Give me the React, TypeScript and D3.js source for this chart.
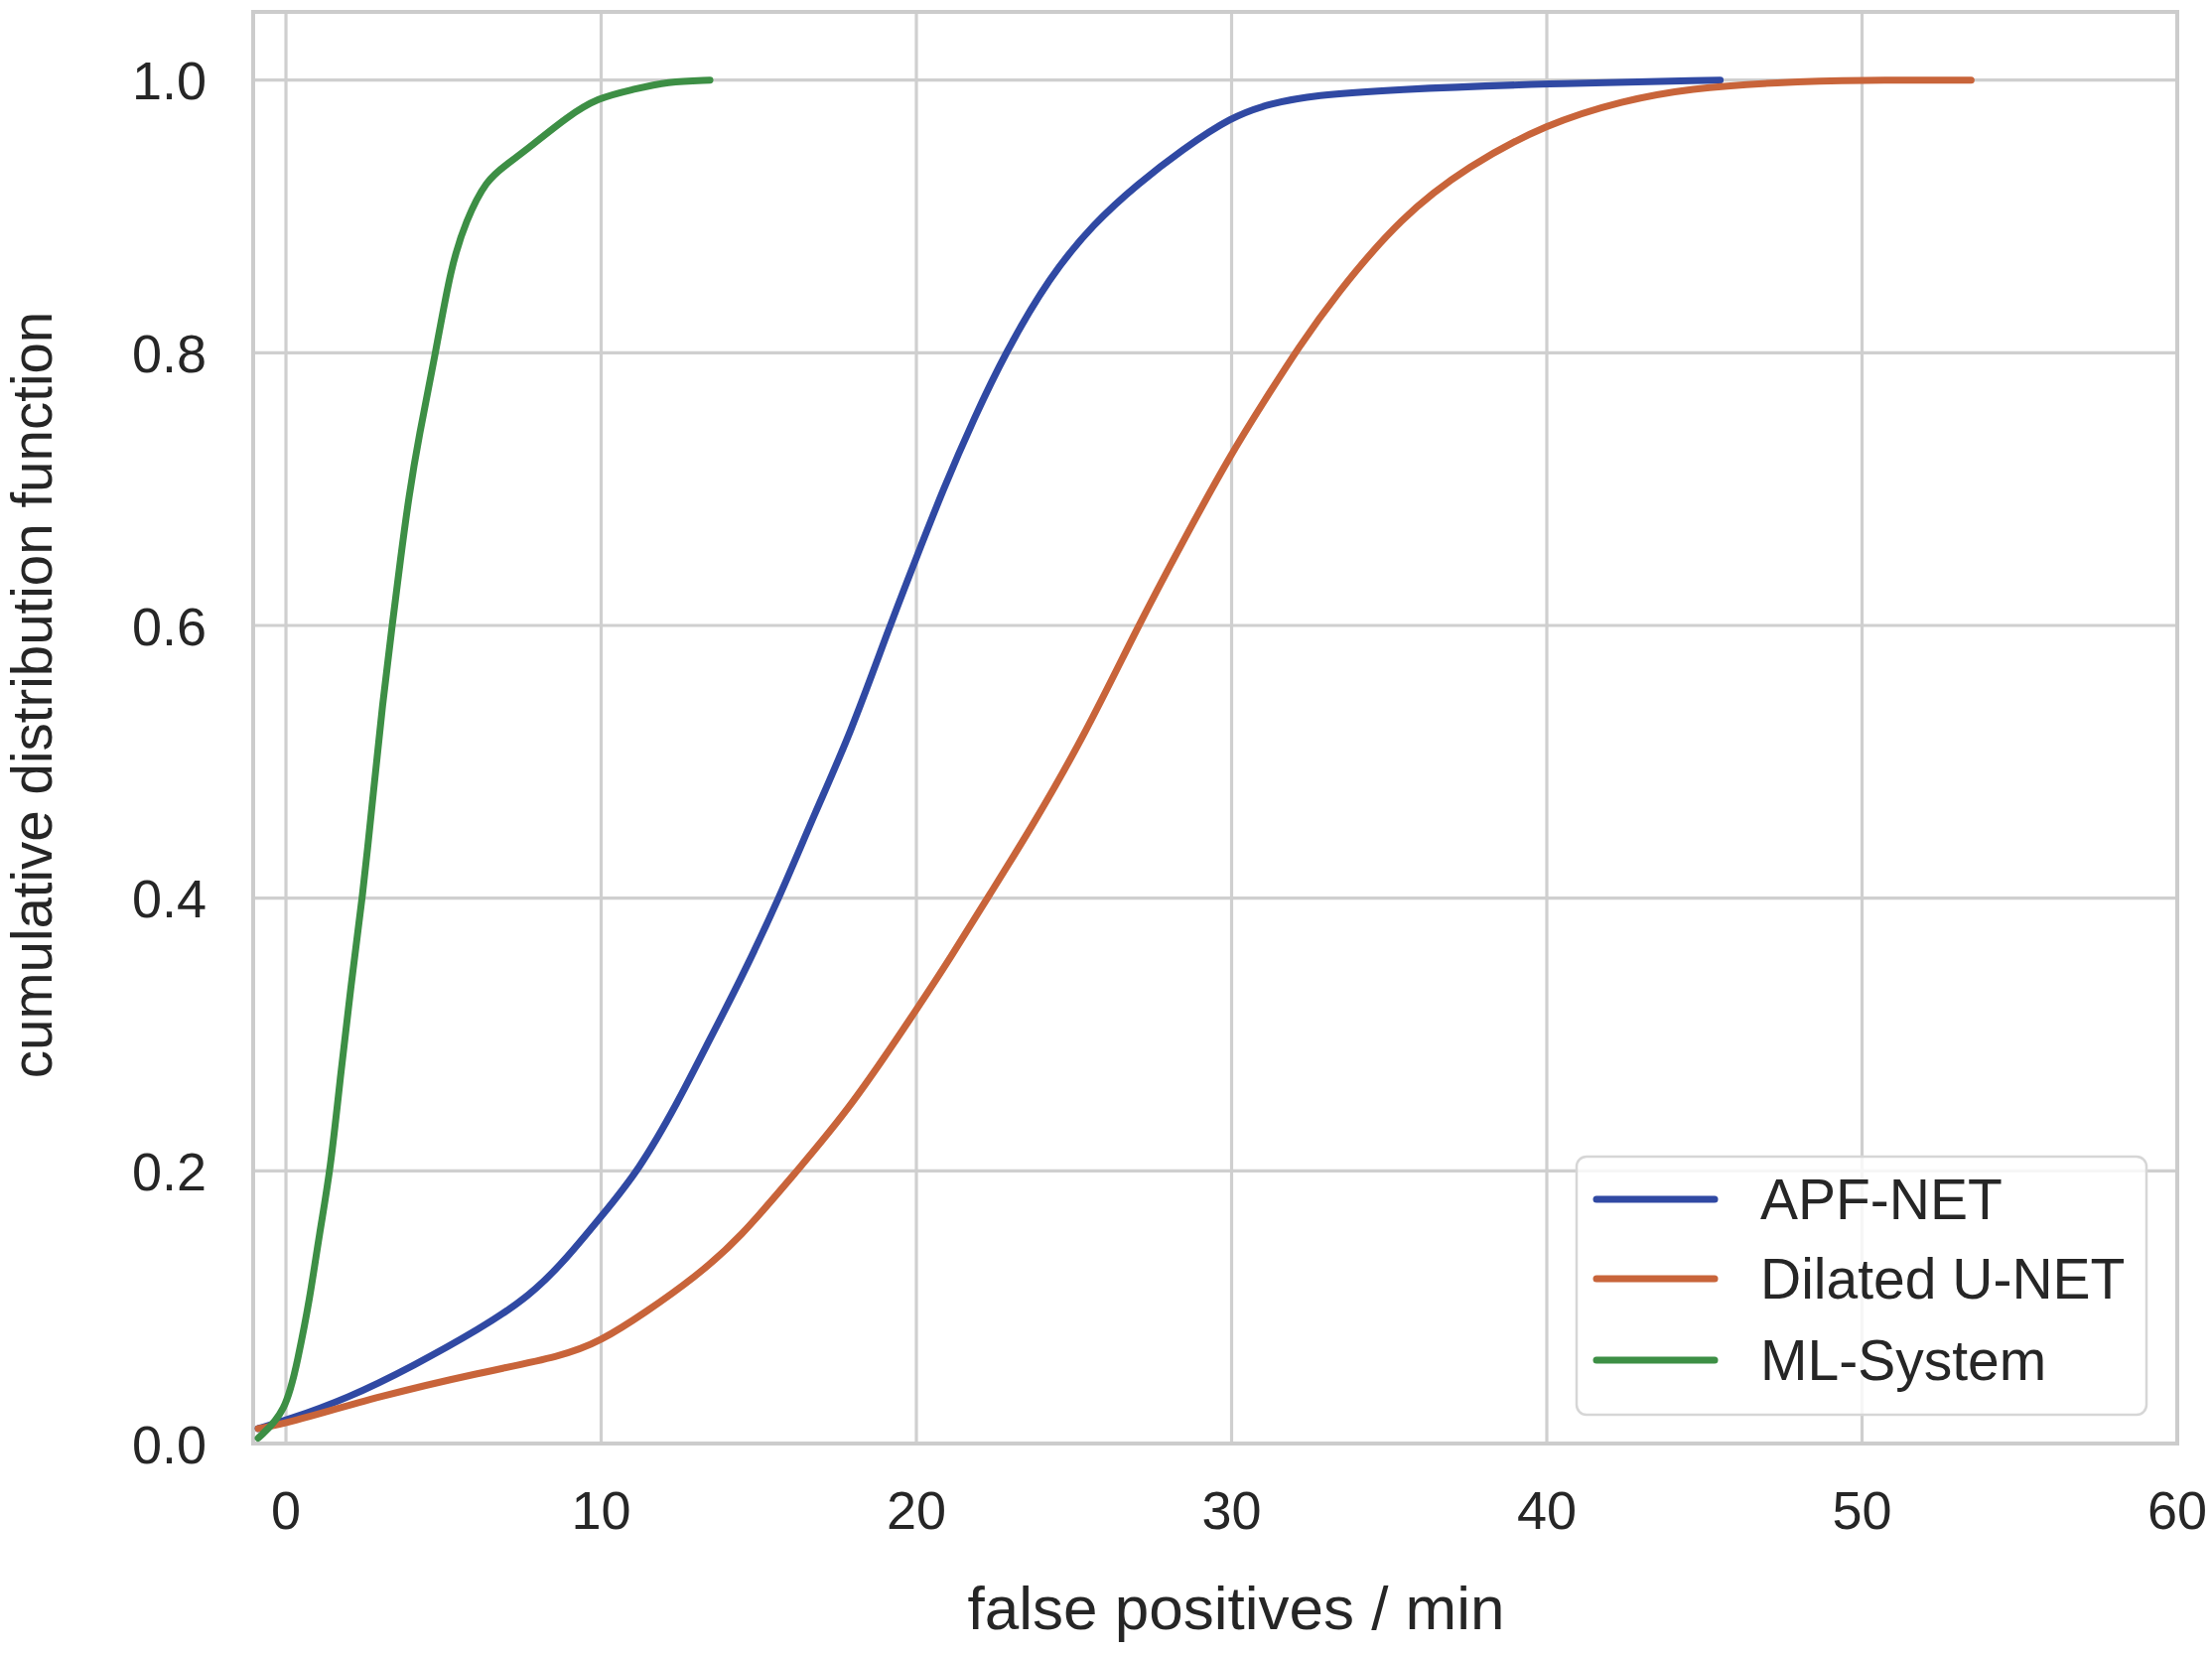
import * as d3 from 'd3';
import React from 'react';

// cumulative distribution curves
const apfX = [-0.88, 0, 1.95, 4.05, 6.15, 7.73, 8.88, 9.98, 11.19, 12.45, 13.3, 14.38, 15.65, 16.77, 17.9, 19.16, 19.97, 20.85, 21.83, 22.82, 24.23, 25.63, 27.03, 28.44, 29.98, 31.24, 32.66, 35.02, 40, 45.5];
const apfY = [0.011, 0.017, 0.033, 0.057, 0.084, 0.108, 0.135, 0.166, 0.2, 0.251, 0.29, 0.338, 0.4, 0.462, 0.52, 0.6, 0.648, 0.7, 0.752, 0.8, 0.856, 0.895, 0.924, 0.949, 0.973, 0.983, 0.989, 0.993, 0.9975, 1.0];

const unetX = [-0.88, 0, 3.0, 6.15, 8.78, 9.98, 11.4, 12.98, 14.38, 16.21, 17.9, 19.97, 21.13, 22.25, 23.66, 25.35, 27.04, 28.44, 29.98, 31.24, 32.1, 33.28, 35.39, 37.5, 40, 42.42, 44.53, 47.34, 50, 53.46];
const unetY = [0.011, 0.0145, 0.035, 0.052, 0.064, 0.075, 0.096, 0.122, 0.15, 0.2, 0.246, 0.317, 0.358, 0.4, 0.452, 0.52, 0.6, 0.661, 0.726, 0.772, 0.803, 0.842, 0.9, 0.937, 0.968, 0.985, 0.994, 0.9985, 1.0, 1.0];

const mlX = [-0.88, 0, 0.38, 0.75, 1.06, 1.41, 1.74, 2.06, 2.43, 2.79, 3.06, 3.37, 3.63, 3.9, 4.21, 4.75, 5.23, 5.71, 6.36, 7.0, 7.8, 8.92, 9.89, 11.0, 12.1, 13.45];
const mlY = [0.004, 0.023, 0.062, 0.105, 0.154, 0.2, 0.272, 0.336, 0.4, 0.481, 0.542, 0.6, 0.648, 0.695, 0.738, 0.8, 0.863, 0.897, 0.927, 0.938, 0.952, 0.973, 0.987, 0.993, 0.999, 1.0];

const seriesNames = ['APF-NET', 'Dilated U-NET', 'ML-System'];
const seriesColors = ['#3049a3', '#c8643a', '#3d8f45'];

const xTicks = [0, 10, 20, 30, 40, 50, 60];
const yTicks = [0, 0.2, 0.4, 0.6, 0.8, 1.0];

const W = 2228;
const H = 1666;
const plot = { left: 255, right: 2193, top: 12, bottom: 1454 };
const font = '"Liberation Sans", Arial, sans-serif';
const textColor = '#262626';
const gridColor = '#cfcfcf';

export default () => {
    const x = d3.scaleLinear().domain([-1.04, 60]).range([plot.left, plot.right]);
    const y = d3.scaleLinear().domain([0, 1.05]).range([plot.bottom, plot.top]);

    const series = [
        { name: seriesNames[0], color: seriesColors[0], pts: apfX.map((v, i) => [v, apfY[i]]) },
        { name: seriesNames[1], color: seriesColors[1], pts: unetX.map((v, i) => [v, unetY[i]]) },
        { name: seriesNames[2], color: seriesColors[2], pts: mlX.map((v, i) => [v, mlY[i]]) },
    ];

    // the curves are smooth KDE-style cdfs, so a B-spline irons out reading noise
    const line = d3.line<number[]>()
        .x((d) => x(d[0]))
        .y((d) => y(d[1]))
        .curve(d3.curveBasis);

    const fmtY = d3.format('.1f');
    const legend = { x: 1588, y: 1165, w: 574, h: 260 };
    const legendRows = [1208, 1288, 1370];

    return (
        <svg width={W} height={H} style={{ position: 'absolute', left: 0, top: 0, background: '#fff' }}
            fontFamily={font}>
            <rect x={0} y={0} width={W} height={H} fill='#fff' />
            {/* grid */}
            <g stroke={gridColor} strokeWidth={3.2}>
                {xTicks.slice(0, -1).map((t) => (
                    <line key={'gx' + t} x1={x(t)} x2={x(t)} y1={plot.top} y2={plot.bottom} />
                ))}
                {yTicks.map((t) => (
                    <line key={'gy' + t} x1={plot.left} x2={plot.right} y1={y(t)} y2={y(t)} />
                ))}
            </g>
            <rect x={plot.left} y={plot.top} width={plot.right - plot.left} height={plot.bottom - plot.top}
                fill='none' stroke='#cccccc' strokeWidth={4} />

            {/* tick labels */}
            <g fill={textColor} fontSize={54}>
                {yTicks.map((t) => (
                    <text key={'ty' + t} x={208} y={y(t) + 19.5} textAnchor='end'>{fmtY(t)}</text>
                ))}
                {xTicks.map((t) => (
                    <text key={'tx' + t} x={x(t)} y={1540} textAnchor='middle'>{t}</text>
                ))}
            </g>

            {/* axis labels */}
            <text x={1245} y={1641} textAnchor='middle' fontSize={62} fill={textColor}>false positives / min</text>
            <text transform='translate(52,700) rotate(-90)' textAnchor='middle' fontSize={56.5} fill={textColor}>
                cumulative distribution function
            </text>

            {/* curves */}
            <g fill='none' strokeWidth={7} strokeLinecap='round' strokeLinejoin='round'>
                {series.map((s) => (
                    <path key={s.name} d={line(s.pts) || ''} stroke={s.color} />
                ))}
            </g>

            {/* legend */}
            <rect x={legend.x} y={legend.y} width={legend.w} height={legend.h} rx={10}
                fill='#fff' fillOpacity={0.8} stroke='#d6d6d6' strokeWidth={2.5} />
            {series.map((s, i) => (
                <g key={'lg' + s.name}>
                    <line x1={1608} x2={1727} y1={legendRows[i]} y2={legendRows[i]} stroke={s.color}
                        strokeWidth={7} strokeLinecap='round' />
                    <text x={1773} y={legendRows[i] + 20} fontSize={57} fill={textColor}>{s.name}</text>
                </g>
            ))}
        </svg>
    );
};
